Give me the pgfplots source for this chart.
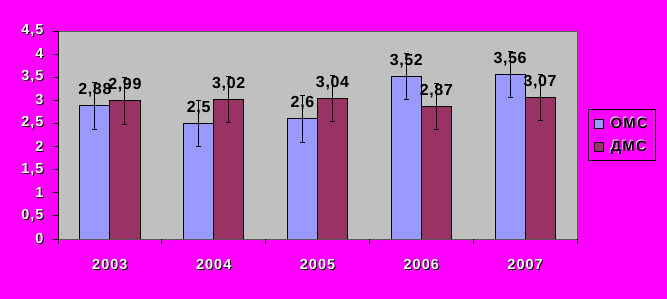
\documentclass[border=0pt]{standalone}
\usepackage{pgfplots}
\usepackage{pgfplotstable}
\pgfplotsset{compat=1.18}
\usepackage{fontspec}
\setmainfont{Liberation Sans}
\newfontfamily\tickfont[LetterSpace=7]{Liberation Sans}
\newfontfamily\lblfont[LetterSpace=4]{Liberation Sans}
\newfontfamily\legfont[LetterSpace=8]{Liberation Sans}
\definecolor{bgm}{RGB}{255,0,255}
\definecolor{plotgray}{RGB}{192,192,192}
\definecolor{oms}{RGB}{153,153,255}
\definecolor{dms}{RGB}{153,51,102}
\newcommand\shad[1]{\makebox[0pt][l]{\hspace{1pt}\raisebox{-1pt}{\textcolor{black}{#1}}}\textcolor{white}{#1}}
\newcommand\lshad[1]{\makebox[0pt][l]{\hspace{-0.7pt}\raisebox{0.7pt}{\textcolor{white}{#1}}}\textcolor{black}{#1}}
\pgfplotstableread{
x y e lab
0 2.88 0.5 2,88
1 2.5 0.5 2,5
2 2.6 0.5 2,6
3 3.52 0.5 3,52
4 3.56 0.5 3,56
}\omsdata
\pgfplotstableread{
x y e lab
0 2.99 0.5 2,99
1 3.02 0.5 3,02
2 3.04 0.5 3,04
3 2.87 0.5 2,87
4 3.07 0.5 3,07
}\dmsdata
\begin{document}
\begin{tikzpicture}
\fill[bgm] (-58pt,-60pt) rectangle (609pt,239pt);
\begin{axis}[
  scale only axis, width=519pt, height=208pt,
  xmin=-0.5, xmax=4.5, ymin=0, ymax=4.5,
  ybar=0pt, bar width=30pt,
  axis background/.style={fill=plotgray},
  axis line style={draw=gray!70!black, line width=0.6pt},
  tick align=outside, ytick pos=left, xtick pos=bottom,
  major tick length=5pt,
  tick style={black, line width=0.8pt},
  ytick={0,0.5,1,1.5,2,2.5,3,3.5,4,4.5},
  yticklabels={\shad{0},{\shad{0,5}},\shad{1},{\shad{1,5}},\shad{2},{\shad{2,5}},\shad{3},{\shad{3,5}},\shad{4},{\shad{4,5}}},
  yticklabel style={font=\tickfont\bfseries\fontsize{14.5}{16}\selectfont, xshift=-6pt},
  xtick={0,1,2,3,4},
  xticklabels={\shad{2003},\shad{2004},\shad{2005},\shad{2006},\shad{2007}},
  xticklabel style={font=\tickfont\bfseries\fontsize{14.5}{16}\selectfont, yshift=-12pt},
  xtick style={draw=none},
  extra x ticks={-0.5,0.5,1.5,2.5,3.5,4.5},
  extra x tick labels={},
  extra x tick style={xtick style={draw=black, line width=0.8pt}},
  point meta=explicit symbolic,
  nodes near coords,
  every node near coord/.append style={anchor=base, inner sep=0pt, yshift=11pt, black, font=\lblfont\bfseries\fontsize{16}{18}\selectfont},
  legend style={at={(1,0.5)}, anchor=west, xshift=11pt, fill=bgm, draw=black, line width=0.8pt,
    font=\legfont\bfseries\fontsize{15}{17}\selectfont, inner xsep=5.5pt, inner ysep=6pt, row sep=6pt,
    /tikz/every odd column/.append style={column sep=5pt}},
  legend cell align=left,
]
\addplot[fill=oms, draw=black, line width=0.8pt,
  error bars/.cd, y dir=both, y explicit,
  error bar style={black, line width=0.8pt},
  error mark options={rotate=90, black, mark size=2.5pt, line width=0.8pt}]
  table[x=x, y=y, y error=e, meta=lab] {\omsdata};
\addlegendentry{\lshad{ОМС}}
\addplot[fill=dms, draw=black, line width=0.8pt,
  error bars/.cd, y dir=both, y explicit,
  error bar style={black, line width=0.8pt},
  error mark options={rotate=90, black, mark size=2.5pt, line width=0.8pt}]
  table[x=x, y=y, y error=e, meta=lab] {\dmsdata};
\addlegendentry{\lshad{ДМС}}
\pgfplotsset{legend image code/.code={\draw[#1, draw=black, line width=0.6pt] (0pt,-4.5pt) rectangle (9pt,4.5pt);}}
\draw[black, line width=0.8pt] (rel axis cs:0,1) -- (rel axis cs:0,0) -- (rel axis cs:1,0);
\end{axis}
\end{tikzpicture}
\end{document}
